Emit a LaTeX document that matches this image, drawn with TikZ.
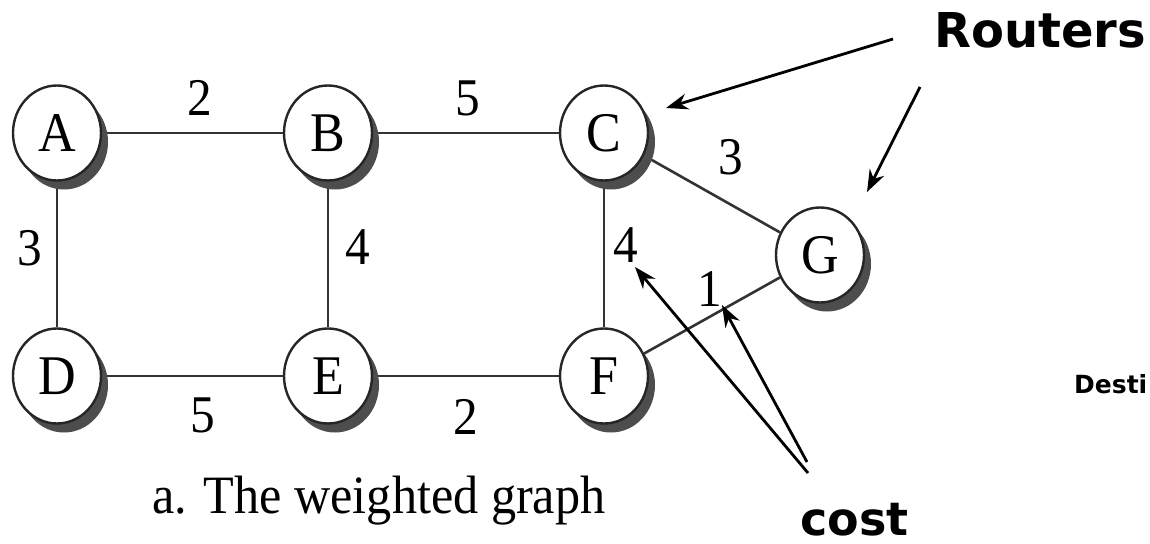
\documentclass[tikz,border=0pt]{standalone}
\usepackage{fontspec}
\setmainfont{Liberation Serif}[FakeStretch=0.93]
\newfontfamily\labfont{DejaVu Sans}
\usetikzlibrary{shapes.geometric,shadows,arrows.meta}
\definecolor{edgecol}{HTML}{333333}
\definecolor{shcol}{HTML}{4D4D4D}
\pgfdeclarelayer{bg}
\pgfsetlayers{bg,main}
\begin{document}
\begin{tikzpicture}[x=1pt,y=-1pt,
  router/.style={ellipse, draw=black!85, line width=2.4pt, fill=white,
    minimum width=88pt, minimum height=95pt, inner sep=0pt,
    font=\fontsize{56}{60}\selectfont,
    drop shadow={shadow xshift=7pt, shadow yshift=-9pt, fill=shcol, opacity=1}},
  wt/.style={font=\fontsize{53}{56}\selectfont, inner sep=0pt},
  link/.style={draw=edgecol, line width=2.6pt},
  callout/.style={draw=black, line width=2.8pt, -{Stealth[length=22pt,width=16pt]}},
  bigbold/.style={font=\labfont\bfseries\fontsize{48}{52}\selectfont, inner sep=0pt, anchor=base west}]
\useasboundingbox (0,0) rectangle (1150,543);

% routers
\node[router] (A) at (57,133) {A};
\node[router] (B) at (328,133) {B};
\node[router] (C) at (604,133) {C};
\node[router] (D) at (57,376) {D};
\node[router] (E) at (328,376) {E};
\node[router] (F) at (604,376) {F};
\node[router] (G) at (820,255) {G};

% links
\begin{pgfonlayer}{bg}
\fill[white] (0,0) rectangle (1150,543);
\draw[link] (A) -- (B);
\draw[link] (B) -- (C);
\draw[link] (A) -- (D);
\draw[link] (B) -- (E);
\draw[link] (C) -- (F);
\draw[link] (D) -- (E);
\draw[link] (E) -- (F);
\draw[link] (C) -- (G);
\draw[link] (F) -- (G);
\end{pgfonlayer}

% weights
\node[wt] (wAB) at (200,98) {2};
\node[wt] (wBC) at (468,98) {5};
\node[wt] (wAD) at (30,248) {3};
\node[wt] (wBE) at (358,247) {4};
\node[wt] (wCF) at (626,245) {4};
\node[wt] (wCG) at (731,157) {3};
\node[wt] (wFG) at (710,289) {1};
\node[wt] (wDE) at (203,415) {5};
\node[wt] (wEF) at (466,417) {2};

% caption
\node[font=\fontsize{54}{58}\selectfont, inner sep=0pt, anchor=base west] (cap) at (152,513) {a. The weighted graph};

% annotations
\node[bigbold] (routers) at (934,48) {Routers};
\node[bigbold, font=\labfont\bfseries\fontsize{46}{50}\selectfont] (cost) at (800,535) {cost};
\node[bigbold, font=\labfont\bfseries\fontsize{25}{28}\selectfont] (desti) at (1074,393) {Desti};

\coordinate (rC) at (893,39);
\coordinate (rG) at (920,87);
\coordinate (tC) at (666,108);
\coordinate (tG) at (867,192);
\coordinate (c1) at (808,473);
\coordinate (c2) at (807,462);
\coordinate (t4) at (635,267);
\coordinate (t1) at (722,305);

\draw[callout] (rC) -- (tC);
\draw[callout] (rG) -- (tG);
\draw[callout] (c1) -- (t4);
\draw[callout] (c2) -- (t1);
\end{tikzpicture}
\end{document}
